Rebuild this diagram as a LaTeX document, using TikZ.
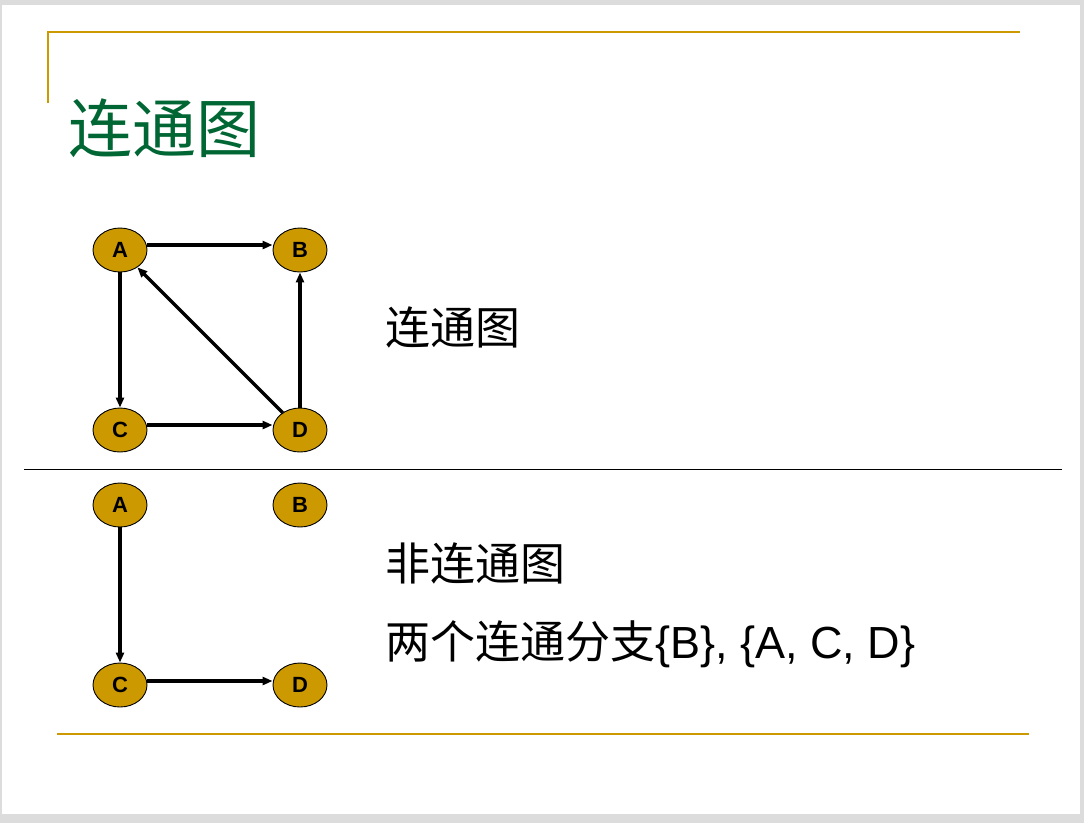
\documentclass[tikz,border=0pt]{standalone}
\usepackage{fontspec}
\setmainfont{Liberation Sans}
\newfontfamily\cjk{Noto Sans CJK SC}
\usetikzlibrary{shapes.geometric,arrows.meta}
\definecolor{gold}{HTML}{CC9900}
\definecolor{titlegreen}{HTML}{006633}
\definecolor{bggray}{HTML}{DCDCDC}
\tikzset{
  vtx/.style={ellipse,draw=black,line width=0.9pt,fill=gold,minimum width=54pt,minimum height=44pt,inner sep=0pt,font=\bfseries\fontsize{22}{22}\selectfont},
  arc/.style={line width=3.2pt,-{Triangle[length=10pt,width=8pt]}},
  goldline/.style={gold,line width=2.8pt},
  bodytext/.style={anchor=west,inner sep=0pt,font=\fontsize{45}{45}\selectfont}
}
\begin{document}
\begin{tikzpicture}[x=1pt,y=-1pt]
\useasboundingbox (0,0) rectangle (1084,823);
\fill[bggray] (0,0) rectangle (1084,823);
\fill[white] (2,5) rectangle (1080,814);
% decorative lines
\draw[goldline] (48,103) -- (48,32) -- (1020,32);
\draw[goldline] (57,734) -- (1029,734);
\draw[black,line width=1pt] (24,469) -- (1062,469);
% title
\node[anchor=west,inner sep=0pt,text=titlegreen,font=\fontsize{64}{64}\selectfont\cjk] (title) at (68,128) {连通图};
% graph 1
\node[vtx] (A1) at (120,250) {A};
\node[vtx] (B1) at (300,250) {B};
\node[vtx] (C1) at (120,430) {C};
\node[vtx] (D1) at (300,430) {D};
\draw[arc] ([yshift=5pt]A1.east) -- ([yshift=5pt]B1.west);
\draw[arc] (A1.south) -- (C1.north);
\draw[arc] ([yshift=5pt]C1.east) -- ([yshift=5pt]D1.west);
\draw[arc] (D1.north) -- (B1.south);
\draw[arc] (D1) -- (A1);
% graph 2
\node[vtx] (A2) at (120,505) {A};
\node[vtx] (B2) at (300,505) {B};
\node[vtx] (C2) at (120,685) {C};
\node[vtx] (D2) at (300,685) {D};
\draw[arc] (A2.south) -- (C2.north);
\draw[arc] ([yshift=4pt]C2.east) -- ([yshift=4pt]D2.west);
% texts
\node[bodytext] (t1) at (385,327) {\cjk 连通图};
\node[bodytext] (t2) at (385,563) {\cjk 非连通图};
\node[bodytext] (t3) at (385,644) {{\cjk 两个连通分支}\{B\}, \{A, C, D\}};
\end{tikzpicture}
\end{document}
